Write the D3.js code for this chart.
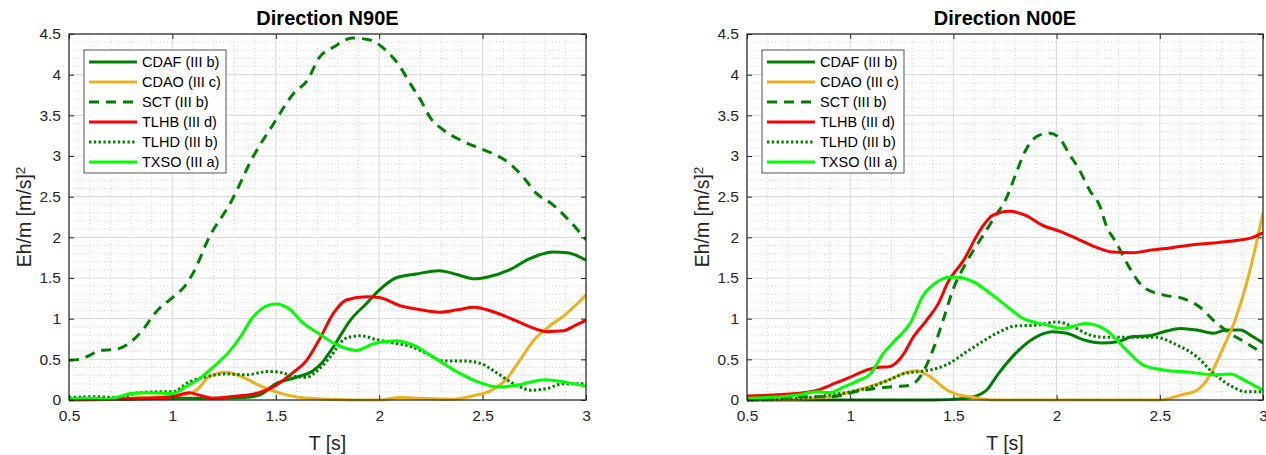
<!DOCTYPE html>
<html>
<head>
<meta charset="utf-8">
<script src="https://cdn.jsdelivr.net/npm/d3@7"></script>
<style>
  body { margin: 0; background: #fff; }
  svg { font-family: Arial, "Liberation Sans", sans-serif; }
  .tick-label { font-size: 15.5px; fill: #262626; }
  .title { font-size: 20px; font-weight: bold; fill: #000; }
  .axis-label { font-size: 19.5px; fill: #262626; }
  .legend text { font-size: 14.5px; fill: #000; }
</style>
</head>
<body>
<svg id="chart" width="1266" height="455"></svg>
<script>
// ---- data: [T (s), Eh/m (m/s)^2] ----
var titles = ["Direction N90E", "Direction N00E"];
var seriesNames = ["CDAF (III b)", "CDAO (III c)", "SCT (III b)", "TLHB (III d)", "TLHD (III b)", "TXSO (III a)"];
var xTicks = [0.5, 1, 1.5, 2, 2.5, 3];
var yTicks = [0, 0.5, 1, 1.5, 2, 2.5, 3, 3.5, 4, 4.5];

// direction N90E
var n90e_CDAF = [[0.5,0],[0.8,0.01],[1.0,0.02],[1.2,0.02],[1.35,0.03],[1.42,0.06],[1.5,0.2],[1.6,0.28],[1.68,0.36],[1.72,0.45],[1.78,0.66],[1.86,0.98],[1.94,1.19],[2.0,1.35],[2.08,1.5],[2.18,1.55],[2.29,1.59],[2.38,1.54],[2.46,1.49],[2.52,1.51],[2.63,1.6],[2.73,1.74],[2.84,1.82],[2.91,1.81],[3.0,1.72]];
var n90e_CDAO = [[0.5,0],[0.7,0.01],[0.85,0.03],[1.0,0.05],[1.08,0.08],[1.12,0.13],[1.18,0.29],[1.26,0.34],[1.33,0.29],[1.42,0.18],[1.5,0.1],[1.62,0.03],[1.75,0.01],[1.9,0],[2.0,0],[2.1,0.03],[2.2,0.02],[2.35,0.01],[2.45,0.05],[2.55,0.13],[2.62,0.27],[2.67,0.45],[2.75,0.74],[2.84,0.94],[2.9,1.05],[2.96,1.19],[3.0,1.29]];
var n90e_SCT = [[0.5,0.49],[0.55,0.5],[0.6,0.55],[0.65,0.61],[0.72,0.62],[0.78,0.68],[0.85,0.84],[0.92,1.08],[1.0,1.26],[1.06,1.4],[1.1,1.56],[1.18,2.01],[1.28,2.42],[1.39,2.99],[1.49,3.4],[1.59,3.78],[1.65,3.92],[1.71,4.21],[1.78,4.34],[1.87,4.45],[1.95,4.43],[2.04,4.28],[2.1,4.1],[2.15,3.89],[2.2,3.69],[2.25,3.46],[2.31,3.32],[2.39,3.2],[2.47,3.11],[2.55,3.03],[2.63,2.91],[2.7,2.73],[2.76,2.54],[2.83,2.42],[2.91,2.23],[2.96,2.09],[3.0,1.97]];
var n90e_TLHB = [[0.5,0.01],[0.7,0.01],[0.85,0.02],[1.0,0.04],[1.08,0.09],[1.13,0.06],[1.2,0.02],[1.28,0.04],[1.42,0.09],[1.5,0.18],[1.58,0.33],[1.65,0.49],[1.71,0.74],[1.78,1.07],[1.84,1.23],[1.94,1.27],[2.0,1.26],[2.1,1.16],[2.2,1.11],[2.29,1.08],[2.38,1.11],[2.46,1.14],[2.52,1.11],[2.62,1.02],[2.73,0.9],[2.81,0.84],[2.89,0.85],[2.95,0.92],[3.0,0.98]];
var n90e_TLHD = [[0.5,0.03],[0.63,0.04],[0.73,0.03],[0.84,0.09],[0.92,0.1],[1.0,0.1],[1.08,0.22],[1.17,0.29],[1.26,0.32],[1.36,0.31],[1.46,0.35],[1.52,0.34],[1.59,0.29],[1.65,0.28],[1.7,0.36],[1.76,0.52],[1.84,0.76],[1.91,0.79],[1.99,0.74],[2.07,0.7],[2.15,0.66],[2.23,0.57],[2.31,0.48],[2.41,0.48],[2.49,0.45],[2.57,0.33],[2.65,0.2],[2.74,0.12],[2.81,0.14],[2.89,0.2],[3.0,0.2]];
var n90e_TXSO = [[0.5,0.01],[0.6,0.02],[0.68,0.01],[0.74,0.04],[0.8,0.08],[0.89,0.09],[1.0,0.08],[1.07,0.17],[1.13,0.26],[1.2,0.41],[1.28,0.61],[1.33,0.78],[1.39,1.02],[1.45,1.15],[1.5,1.18],[1.57,1.11],[1.63,0.95],[1.7,0.83],[1.78,0.7],[1.89,0.61],[1.97,0.69],[2.08,0.73],[2.16,0.68],[2.26,0.53],[2.36,0.37],[2.47,0.23],[2.58,0.16],[2.66,0.18],[2.8,0.25],[2.9,0.22],[3.0,0.17]];

// direction N00E
var n00e_CDAF = [[0.5,0],[1.0,0],[1.4,0],[1.55,0.02],[1.6,0.04],[1.66,0.12],[1.72,0.33],[1.8,0.57],[1.89,0.76],[1.98,0.84],[2.05,0.82],[2.13,0.74],[2.22,0.7],[2.3,0.72],[2.37,0.78],[2.45,0.79],[2.52,0.84],[2.6,0.88],[2.68,0.86],[2.76,0.82],[2.82,0.86],[2.89,0.86],[2.95,0.78],[3.0,0.7]];
var n00e_CDAO = [[0.5,0],[0.74,0.01],[0.9,0.04],[1.06,0.14],[1.19,0.25],[1.26,0.33],[1.32,0.36],[1.385,0.29],[1.47,0.12],[1.53,0.06],[1.58,0.04],[1.7,0],[2.0,0],[2.5,0],[2.6,0.06],[2.68,0.12],[2.74,0.29],[2.8,0.6],[2.87,1.02],[2.92,1.43],[2.96,1.84],[3.0,2.3]];
var n00e_SCT = [[0.5,0],[0.6,0.01],[0.74,0.04],[0.9,0.04],[1.06,0.12],[1.19,0.16],[1.29,0.18],[1.35,0.33],[1.4,0.61],[1.45,0.98],[1.5,1.37],[1.56,1.68],[1.63,1.97],[1.69,2.21],[1.76,2.5],[1.81,2.83],[1.85,3.07],[1.92,3.26],[1.97,3.28],[2.02,3.2],[2.06,3.03],[2.11,2.83],[2.16,2.58],[2.21,2.38],[2.24,2.15],[2.29,1.93],[2.35,1.64],[2.42,1.39],[2.52,1.29],[2.61,1.25],[2.69,1.15],[2.76,0.98],[2.84,0.82],[2.92,0.7],[3.0,0.57]];
var n00e_TLHB = [[0.5,0.05],[0.74,0.08],[0.84,0.12],[0.93,0.21],[1.0,0.28],[1.06,0.35],[1.13,0.4],[1.19,0.41],[1.26,0.57],[1.3,0.75],[1.37,0.98],[1.43,1.2],[1.47,1.43],[1.55,1.72],[1.63,2.09],[1.69,2.27],[1.77,2.32],[1.85,2.27],[1.93,2.15],[2.02,2.07],[2.11,1.97],[2.19,1.88],[2.27,1.82],[2.37,1.81],[2.45,1.84],[2.55,1.87],[2.66,1.91],[2.76,1.93],[2.87,1.96],[2.94,1.99],[3.0,2.06]];
var n00e_TLHD = [[0.5,0],[0.74,0.02],[0.9,0.06],[1.0,0.1],[1.1,0.16],[1.19,0.25],[1.27,0.33],[1.34,0.35],[1.42,0.39],[1.48,0.45],[1.55,0.57],[1.63,0.7],[1.71,0.82],[1.8,0.91],[1.9,0.92],[2.0,0.96],[2.08,0.9],[2.16,0.8],[2.24,0.77],[2.35,0.77],[2.48,0.77],[2.58,0.68],[2.68,0.53],[2.76,0.33],[2.84,0.18],[2.92,0.1],[3.0,0.1]];
var n00e_TXSO = [[0.5,0.02],[0.74,0.06],[0.84,0.1],[0.9,0.09],[0.97,0.16],[1.03,0.23],[1.1,0.33],[1.16,0.57],[1.22,0.74],[1.29,0.94],[1.35,1.27],[1.42,1.45],[1.48,1.51],[1.52,1.51],[1.6,1.45],[1.68,1.31],[1.76,1.15],[1.84,1.0],[1.94,0.93],[2.03,0.88],[2.14,0.94],[2.24,0.86],[2.34,0.61],[2.42,0.43],[2.52,0.37],[2.65,0.34],[2.76,0.31],[2.84,0.32],[2.92,0.23],[3.0,0.12]];

// ---- styles ----
var colors = ["#008000", "#EDB120", "#008000", "#FF0000", "#008000", "#00FF00"];
var dashes = [null, null, "10,7", null, "2.4,2.4", null];

var panels = [
  { title: titles[0], left: 69, right: 586, series: [n90e_CDAF, n90e_CDAO, n90e_SCT, n90e_TLHB, n90e_TLHD, n90e_TXSO] },
  { title: titles[1], left: 747, right: 1263, series: [n00e_CDAF, n00e_CDAO, n00e_SCT, n00e_TLHB, n00e_TLHD, n00e_TXSO] }
];
var plotTop = 34, plotBottom = 400;

var svg = d3.select("#chart");

panels.forEach(function(p, pi) {
  var x = d3.scaleLinear().domain([0.5, 3]).range([p.left, p.right]);
  var y = d3.scaleLinear().domain([0, 4.5]).range([plotBottom, plotTop]);
  var g = svg.append("g");

  // minor grid (dotted)
  var minorX = d3.range(5, 31).map(function(d) { return d / 10; }).filter(function(d) { return Math.round(d * 10) % 5 != 0; });
  var minorY = d3.range(0, 46).map(function(d) { return d / 10; }).filter(function(d) { return Math.round(d * 10) % 5 != 0; });
  g.selectAll(".mgx").data(minorX).enter().append("line")
    .attr("x1", function(d) { return x(d); }).attr("x2", function(d) { return x(d); })
    .attr("y1", plotTop).attr("y2", plotBottom)
    .attr("stroke", "#c4c4c4").attr("stroke-width", 0.8).attr("stroke-dasharray", "1,2.5");
  g.selectAll(".mgy").data(minorY).enter().append("line")
    .attr("x1", p.left).attr("x2", p.right)
    .attr("y1", function(d) { return y(d); }).attr("y2", function(d) { return y(d); })
    .attr("stroke", "#c4c4c4").attr("stroke-width", 0.8).attr("stroke-dasharray", "1,2.5");

  // major grid
  g.selectAll(".gx").data(xTicks).enter().append("line")
    .attr("x1", function(d) { return x(d); }).attr("x2", function(d) { return x(d); })
    .attr("y1", plotTop).attr("y2", plotBottom)
    .attr("stroke", "#dedede").attr("stroke-width", 1.2);
  g.selectAll(".gy").data(yTicks).enter().append("line")
    .attr("x1", p.left).attr("x2", p.right)
    .attr("y1", function(d) { return y(d); }).attr("y2", function(d) { return y(d); })
    .attr("stroke", "#dedede").attr("stroke-width", 1.2);

  // data lines
  var clipId = "clip" + pi;
  svg.append("clipPath").attr("id", clipId).append("rect")
    .attr("x", p.left).attr("y", plotTop - 2).attr("width", p.right - p.left).attr("height", plotBottom - plotTop + 4);
  var line = d3.line()
    .x(function(d) { return x(d[0]); })
    .y(function(d) { return y(d[1]); })
    .curve(d3.curveMonotoneX);
  var lines = g.append("g").attr("clip-path", "url(#" + clipId + ")");
  p.series.forEach(function(s, i) {
    lines.append("path")
      .attr("d", line(s))
      .attr("fill", "none")
      .attr("stroke", colors[i])
      .attr("stroke-width", 3)
      .attr("stroke-dasharray", dashes[i]);
  });

  // axes: ticks inward, box all round
  var tickLen = 5;
  var axB = g.append("g").attr("transform", "translate(0," + plotBottom + ")")
    .call(d3.axisBottom(x).tickValues(xTicks).tickSizeInner(-tickLen).tickSizeOuter(0).tickPadding(9).tickFormat(d3.format("")));
  var axT = g.append("g").attr("transform", "translate(0," + plotTop + ")")
    .call(d3.axisTop(x).tickValues(xTicks).tickSizeInner(-tickLen).tickSizeOuter(0).tickFormat(""));
  var axL = g.append("g").attr("transform", "translate(" + p.left + ",0)")
    .call(d3.axisLeft(y).tickValues(yTicks).tickSizeInner(-tickLen).tickSizeOuter(0).tickPadding(8).tickFormat(d3.format("")));
  var axR = g.append("g").attr("transform", "translate(" + p.right + ",0)")
    .call(d3.axisRight(y).tickValues(yTicks).tickSizeInner(-tickLen).tickSizeOuter(0).tickFormat(""));
  [axB, axT, axL, axR].forEach(function(a) {
    a.select(".domain").remove();
    a.selectAll(".tick line").attr("stroke", "#262626");
    a.selectAll("text").attr("class", "tick-label").attr("font-family", null).attr("font-size", null).attr("fill", null);
  });
  axB.selectAll("text").attr("dy", "0.75em");
  g.append("rect")
    .attr("x", p.left).attr("y", plotTop).attr("width", p.right - p.left).attr("height", plotBottom - plotTop)
    .attr("fill", "none").attr("stroke", "#262626").attr("stroke-width", 1.2);

  // title and axis labels
  var cx = (p.left + p.right) / 2;
  g.append("text").attr("class", "title").attr("x", cx).attr("y", 25)
    .attr("text-anchor", "middle").text(p.title);
  g.append("text").attr("class", "axis-label").attr("x", cx).attr("y", 450)
    .attr("text-anchor", "middle").text("T [s]");
  var yl = g.append("text").attr("class", "axis-label")
    .attr("transform", "translate(" + (p.left - 38) + "," + ((plotTop + plotBottom) / 2) + ") rotate(-90)")
    .attr("text-anchor", "middle");
  yl.append("tspan").text("Eh/m [m/s]");
  yl.append("tspan").attr("dy", "-0.45em").attr("font-size", "13.5px").text("2");

  // legend
  var lx = p.left + 15, ly = 50;
  var lg = g.append("g").attr("class", "legend");
  lg.append("rect").attr("x", lx).attr("y", ly).attr("width", 142).attr("height", 123)
    .attr("fill", "#fff").attr("stroke", "#555").attr("stroke-width", 1);
  var rows = lg.selectAll(".row").data(seriesNames).enter().append("g")
    .attr("transform", function(d, i) { return "translate(" + lx + "," + (ly + 12 + i * 20) + ")"; });
  rows.append("line").attr("x1", 5).attr("x2", 53).attr("y1", 0).attr("y2", 0)
    .attr("stroke", function(d, i) { return colors[i]; })
    .attr("stroke-width", 3)
    .attr("stroke-dasharray", function(d, i) { return dashes[i]; });
  rows.append("text").attr("x", 58).attr("y", 0).attr("dy", "0.35em").text(function(d) { return d; });
});
</script>
</body>
</html>
